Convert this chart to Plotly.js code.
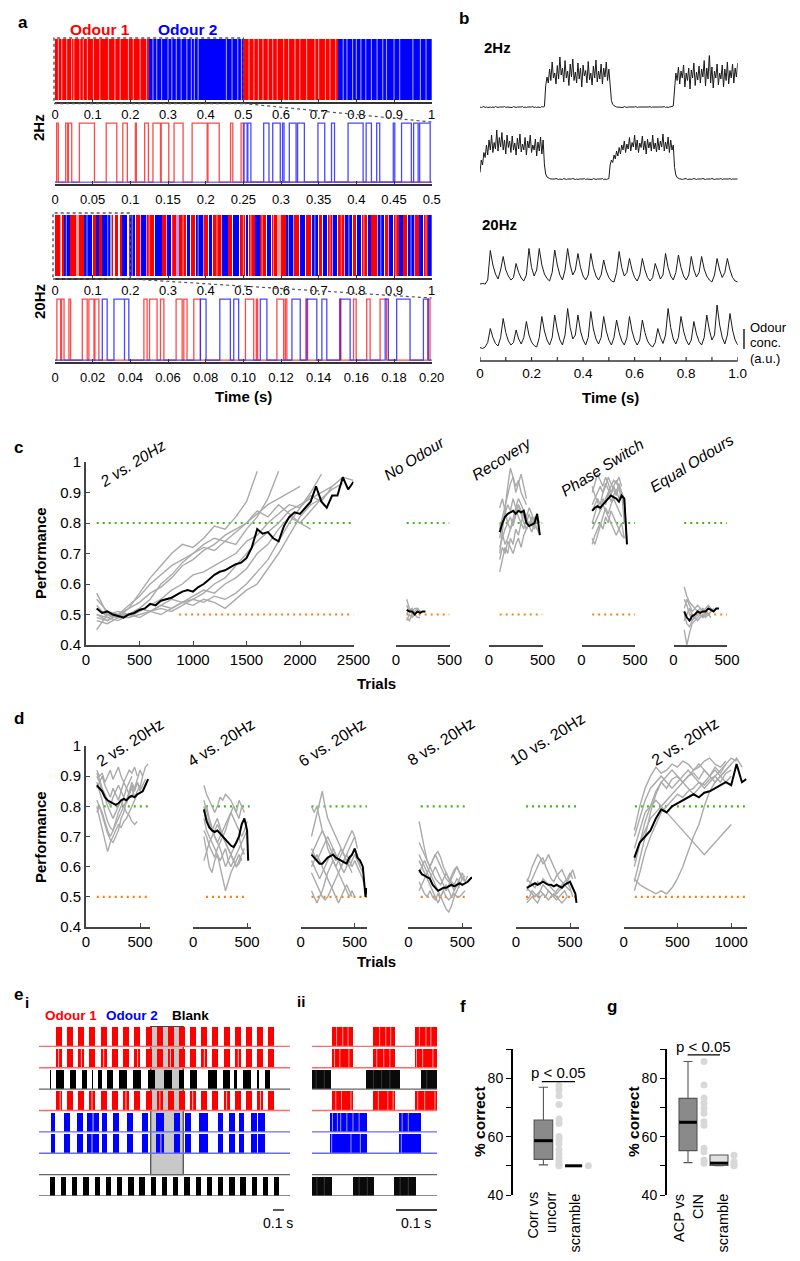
<!DOCTYPE html>
<html><head><meta charset="utf-8">
<script src="https://cdn.plot.ly/plotly-3.0.1.min.js"></script>
<style>html,body{margin:0;padding:0;background:#fff;}#chart{width:800px;height:1261px;}</style>
</head><body><div id="chart"></div>
<script>
// ================= DATA =================
// ---- panel a : odour pulse rasters
const aTopTicks = [0,0.1,0.2,0.3,0.4,0.5,0.6,0.7,0.8,0.9,1];
const aTopTickText = ['0','0.1','0.2','0.3','0.4','0.5','0.6','0.7','0.8','0.9','1'];
const a2HzZoomTicks = [0,0.05,0.1,0.15,0.2,0.25,0.3,0.35,0.4,0.45,0.5];
const a2HzZoomTickText = ['0','0.05','0.1','0.15','0.2','0.25','0.3','0.35','0.4','0.45','0.5'];
const a20HzZoomTicks = [0,0.02,0.04,0.06,0.08,0.1,0.12,0.14,0.16,0.18,0.2];
const a20HzZoomTickText = ['0','0.02','0.04','0.06','0.08','0.10','0.12','0.14','0.16','0.18','0.20'];

const a2HzOdour1Blocks = [[0,0.25],[0.5,0.75]];
const a2HzOdour2Blocks = [[0.25,0.5],[0.75,1]];
const a2HzOdour1Light = [0.009,0.018,0.031,0.044,0.05,0.066,0.075,0.086,0.102,0.119,0.142,0.159,0.173,0.195,0.208,0.226,0.243,
  0.515,0.528,0.54,0.552,0.566,0.578,0.59,0.607,0.62,0.637,0.65,0.668,0.69,0.7,0.718,0.73,0.745];
const a2HzOdour2Light = [0.26,0.27,0.283,0.3,0.31,0.322,0.335,0.35,0.362,0.37,0.38,0.455,0.47,0.485,0.495,
  0.765,0.775,0.79,0.8,0.812,0.825,0.84,0.855,0.87,0.88,0.9,0.915,0.95,0.97,0.985];
const a2HzZoomOdour1 = [[0.0022,0.0044],[0.0142,0.0168],[0.0177,0.0222],[0.0324,0.0524],[0.068,0.082],[0.09,0.096],[0.1067,0.108],
  [0.119,0.124],[0.13,0.14],[0.141,0.151],[0.158,0.17],[0.182,0.202],[0.203,0.218],[0.233,0.236],[0.247,0.25]];
const a2HzZoomOdour2 = [[0.251,0.255],[0.256,0.26],[0.277,0.284],[0.289,0.299],[0.302,0.304],[0.311,0.32],[0.322,0.331],[0.349,0.358],
  [0.367,0.371],[0.389,0.409],[0.413,0.42],[0.427,0.431],[0.449,0.451],[0.46,0.473],[0.476,0.482],[0.484,0.498]];

const a20HzOdour1Segs = [[0,0.012],[0.018,0.024],[0.04,0.056],[0.064,0.078],[0.1,0.108],[0.118,0.124],[0.133,0.136],[0.15,0.153],[0.158,0.168],
  [0.172,0.178],[0.196,0.2],[0.215,0.225],[0.245,0.262],[0.285,0.295],[0.31,0.32],[0.33,0.348],[0.36,0.372],[0.395,0.405],[0.42,0.44],
  [0.46,0.47],[0.49,0.505],[0.515,0.53],[0.545,0.56],[0.575,0.59],[0.6,0.612],[0.635,0.648],[0.665,0.68],[0.7,0.71],[0.725,0.735],
  [0.75,0.768],[0.79,0.8],[0.815,0.828],[0.84,0.855],[0.875,0.885],[0.9,0.912],[0.925,0.935],[0.955,0.965],[0.98,0.99]];
const a20HzOdour2Segs = [[0.025,0.039],[0.078,0.098],[0.109,0.116],[0.126,0.145],[0.178,0.19],[0.2,0.213],[0.228,0.242],[0.265,0.283],
  [0.298,0.308],[0.35,0.358],[0.375,0.392],[0.408,0.418],[0.443,0.458],[0.472,0.488],[0.507,0.513],[0.532,0.543],[0.562,0.573],
  [0.613,0.632],[0.65,0.663],[0.682,0.698],[0.712,0.722],[0.738,0.748],[0.77,0.788],[0.802,0.813],[0.83,0.838],[0.858,0.873],
  [0.887,0.898],[0.914,0.923],[0.938,0.952],[0.967,0.978],[0.99,1.0]];
const a20HzOdour1Pale = [[0.012,0.017],[0.057,0.063],[0.225,0.228],[0.295,0.298],[0.44,0.443],[0.59,0.6],[0.768,0.77],[0.885,0.887]];
const a20HzOdour2Pale = [[0.145,0.15],[0.242,0.245],[0.32,0.33],[0.392,0.395],[0.632,0.635],[0.735,0.738],[0.855,0.858],[0.952,0.955]];
const a20HzGapLines = [0.03,0.085,0.14,0.205,0.25,0.31,0.34,0.38,0.43,0.5,0.52,0.55,0.58,0.62,0.69,0.73,0.76,0.78,0.82,0.865,0.905,0.945,0.985];
const a20HzZoomOdour1 = [[0.001,0.003],[0.0035,0.0048],[0.0074,0.0083],[0.0145,0.0171],[0.018,0.0207],[0.0212,0.0233],[0.0472,0.0489],
  [0.0502,0.0542],[0.056,0.0578],[0.0643,0.0675],[0.0684,0.0701],[0.0737,0.0772],[0.1011,0.1055],[0.1069,0.1076],[0.1178,0.1214],
  [0.1223,0.1231],[0.1332,0.1341],[0.1511,0.1518],[0.1585,0.1599],[0.1655,0.1673],[0.1726,0.1761],[0.1979,0.1991]];
const a20HzZoomOdour2 = [[0.0251,0.0277],[0.0313,0.0369],[0.0369,0.0392],[0.0772,0.0802],[0.0875,0.0931],[0.0949,0.0975],[0.109,0.1125],
  [0.1258,0.1302],[0.1337,0.139],[0.1417,0.1443],[0.1514,0.1567],[0.1753,0.177],[0.1814,0.1885],[0.1956,0.1982]];

// ---- panel b : measured odour concentration (a.u.)
// 2 Hz traces sampled every 5 ms, 20 Hz traces every 10 ms, from 0 to 1 s
const b2HzSampleStep = 0.005;
const b20HzSampleStep = 0.01;
const bTrace2HzA = [
  0.02,0.01,0.02,0.03,0.01,0.02,0.01,0.02,0.02,0.01, 0.02,0.01,0.03,0.02,0.01,0.02,0.02,0.01,0.02,0.03,
  0.01,0.02,0.02,0.01,0.02,0.01,0.03,0.02,0.01,0.02, 0.02,0.01,0.02,0.03,0.01,0.02,0.01,0.02,0.02,0.01,
  0.02,0.03,0.01,0.02,0.01,0.02,0.02,0.01,0.03,0.02, 0.03,0.45,0.62,0.5,0.78,0.55,0.92,0.6,0.7,0.48,
  0.85,0.58,1.02,0.66,0.8,0.52,0.95,0.6,0.74,0.45, 0.88,0.62,0.98,0.55,0.72,0.5,0.9,0.58,0.8,0.42,
  0.86,0.64,0.75,0.5,0.93,0.56,0.7,0.46,0.84,0.6, 0.96,0.52,0.74,0.58,0.88,0.48,0.8,0.62,0.92,0.55,
  0.78,0.4,0.15,0.07,0.04,0.03,0.02,0.02,0.01,0.02, 0.02,0.01,0.03,0.02,0.01,0.02,0.02,0.01,0.02,0.01,
  0.02,0.03,0.01,0.02,0.02,0.01,0.02,0.01,0.02,0.02, 0.01,0.02,0.03,0.01,0.02,0.02,0.01,0.02,0.01,0.02,
  0.02,0.01,0.02,0.03,0.01,0.02,0.01,0.02,0.02,0.03, 0.04,0.5,0.7,0.55,0.82,0.48,0.74,0.6,0.86,0.42,
  0.7,0.55,0.8,0.38,0.76,0.6,0.9,0.45,0.72,0.56, 0.84,0.5,0.78,0.62,0.95,0.44,0.8,0.58,1.1,0.5,
  0.82,0.4,0.74,0.6,0.88,0.46,0.7,0.58,0.86,0.42, 0.78,0.55,0.92,0.48,0.75,0.6,0.88,0.5,0.8,0.62,
  0.9];
const bTrace2HzB = [
  0.15,0.4,0.3,0.55,0.45,0.7,0.5,0.8,0.6,0.9, 0.55,0.75,0.62,1.0,0.58,0.85,0.66,0.95,0.6,0.8,
  0.52,0.9,0.65,0.78,0.55,0.88,0.6,0.74,0.5,0.84, 0.62,0.92,0.56,0.72,0.6,0.85,0.5,0.78,0.64,0.9,
  0.55,0.7,0.6,0.82,0.48,0.76,0.58,0.86,0.52,0.8, 0.3,0.12,0.06,0.04,0.03,0.02,0.02,0.01,0.02,0.03,
  0.02,0.01,0.02,0.02,0.01,0.03,0.02,0.01,0.02,0.02, 0.01,0.02,0.03,0.02,0.01,0.02,0.01,0.02,0.02,0.01,
  0.02,0.03,0.01,0.02,0.02,0.01,0.02,0.01,0.03,0.02, 0.01,0.02,0.02,0.01,0.02,0.03,0.01,0.02,0.01,0.02,
  0.03,0.3,0.4,0.35,0.5,0.42,0.58,0.48,0.65,0.52, 0.7,0.6,0.78,0.55,0.72,0.62,0.85,0.58,0.75,0.66,
  0.9,0.6,0.8,0.55,0.74,0.65,0.88,0.6,0.78,0.52, 0.82,0.64,0.76,0.58,0.9,0.62,0.74,0.56,0.84,0.6,
  0.78,0.66,0.92,0.58,0.76,0.62,0.86,0.55,0.8,0.6, 0.7,0.25,0.1,0.05,0.03,0.02,0.02,0.01,0.02,0.02,
  0.03,0.01,0.02,0.02,0.01,0.02,0.03,0.02,0.01,0.02, 0.02,0.01,0.02,0.03,0.02,0.01,0.02,0.02,0.01,0.02,
  0.03,0.02,0.01,0.02,0.02,0.01,0.02,0.03,0.01,0.02, 0.02,0.01,0.02,0.02,0.03,0.01,0.02,0.02,0.01,0.02,
  0.02];
const bTrace20HzA = [0.02,0.03,0.02,0.1,0.69,0.4,0.22,0.12,0.3,0.57,0.3,0.18,0.1,0.15,0.43,0.25,0.14,0.08,0.2,0.73,
  0.35,0.18,0.3,0.73,0.4,0.22,0.13,0.08,0.25,0.7,0.4,0.2,0.1,0.3,0.73,0.4,0.2,0.3,0.63,0.35,
  0.18,0.1,0.2,0.63,0.35,0.18,0.1,0.2,0.5,0.28,0.15,0.08,0.06,0.25,0.67,0.35,0.18,0.25,0.53,0.3,
  0.15,0.08,0.2,0.53,0.3,0.15,0.08,0.15,0.43,0.25,0.12,0.2,0.63,0.35,0.18,0.1,0.25,0.6,0.35,0.18,
  0.1,0.2,0.57,0.3,0.16,0.25,0.57,0.32,0.18,0.1,0.06,0.2,0.53,0.3,0.15,0.25,0.53,0.3,0.15,0.08,0.06];
const bTrace20HzB = [0.05,0.03,0.06,0.15,0.43,0.25,0.13,0.08,0.25,0.63,0.35,0.18,0.1,0.15,0.4,0.22,0.12,0.25,0.57,0.3,
  0.16,0.09,0.06,0.25,0.67,0.38,0.2,0.1,0.25,0.7,0.4,0.2,0.1,0.3,0.83,0.45,0.22,0.3,0.7,0.38,
  0.2,0.1,0.25,0.77,0.42,0.22,0.12,0.25,0.67,0.38,0.2,0.1,0.25,0.6,0.35,0.18,0.1,0.25,0.67,0.38,
  0.2,0.1,0.2,0.6,0.35,0.18,0.1,0.06,0.15,0.43,0.25,0.13,0.3,0.83,0.45,0.22,0.12,0.25,0.67,0.38,
  0.2,0.1,0.2,0.57,0.32,0.17,0.1,0.25,0.7,0.4,0.2,0.3,0.9,0.5,0.25,0.12,0.3,0.73,0.4,0.2,0.1];
const bTicks = [0,0.1,0.2,0.3,0.4,0.5,0.6,0.7,0.8,0.9,1];
const bTickText = ['0','','0.2','','0.4','','0.6','','0.8','','1.0'];

// ---- panels c, d : performance vs trials
const perfTicks = [0.4,0.5,0.6,0.7,0.8,0.9,1];
const perfTickText = ['0.4','0.5','0.6','0.7','0.8','0.9','1'];
const goalLevel = 0.8, chanceLevel = 0.5;
const cTitles = ['2 vs. 20Hz','No Odour','Recovery','Phase Switch','Equal Odours'];
const cTrials1 = [100,200,300,400,500,600,700,800,900,1000,1100,1200,1300,1400,1500,1600,1700,1800,1900,2000,2100,2200,2300,2400,2500];
const cRuns1 = [
  [0.57,0.50,0.49,0.52,0.57,0.62,0.66,0.70,0.73,0.72,0.75,0.79,0.78,0.82,0.87,0.97],
  [0.53,0.49,0.48,0.50,0.52,0.55,0.60,0.63,0.67,0.70,0.72,0.71,0.74,0.73,0.78,0.82,0.88,0.97],
  [0.50,0.48,0.50,0.49,0.51,0.53,0.55,0.58,0.60,0.63,0.64,0.66,0.68,0.70,0.74,0.76,0.80,0.83,0.86,0.85,0.90,0.96],
  [0.52,0.50,0.49,0.49,0.50,0.51,0.50,0.52,0.54,0.55,0.57,0.60,0.62,0.66,0.70,0.74,0.77,0.80,0.84,0.86,0.88,0.90,0.92,0.95,0.94],
  [0.49,0.48,0.50,0.50,0.49,0.51,0.52,0.51,0.53,0.55,0.54,0.56,0.55,0.57,0.60,0.64,0.68,0.74,0.80,0.85,0.89,0.87,0.92],
  [0.45,0.50,0.51,0.50,0.52,0.51,0.53,0.55,0.54,0.56,0.58,0.57,0.60,0.62,0.65,0.70,0.73,0.78,0.82,0.80,0.84,0.88],
  [0.55,0.51,0.50,0.53,0.56,0.60,0.63,0.66,0.68,0.70,0.73,0.75,0.74,0.77,0.80,0.84,0.82,0.86,0.83,0.80,0.78],
  [0.50,0.49,0.50,0.52,0.54,0.57,0.59,0.62,0.66,0.68,0.71,0.73,0.76,0.78,0.80,0.83,0.86,0.88,0.90,0.92],
  [0.48,0.47,0.49,0.50,0.52,0.51,0.53,0.52,0.54,0.53,0.55,0.54,0.52,0.55,0.58,0.60,0.65,0.70,0.76,0.82,0.86,0.88,0.91,0.93]];
const cMeanTrials1 = [100,150,200,250,300,350,400,450,500,550,600,650,700,750,800,850,900,950,1000,1050,1100,1150,1200,1250,1300,
  1350,1400,1450,1500,1550,1600,1650,1700,1750,1800,1850,1900,1950,2000,2050,2100,2150,2200,2250,2300,2350,2400,2450,2500];
const cMean1 = [0.52,0.505,0.51,0.50,0.495,0.49,0.50,0.505,0.515,0.52,0.535,0.53,0.545,0.55,0.555,0.565,0.575,0.58,0.575,0.59,
  0.60,0.615,0.63,0.64,0.645,0.655,0.665,0.67,0.685,0.72,0.78,0.765,0.77,0.75,0.74,0.79,0.82,0.835,0.83,0.85,
  0.87,0.92,0.87,0.85,0.89,0.89,0.95,0.91,0.935];
const cTrials2 = [100,125,150,175,200,225,250,275];
const cRuns2 = [[0.55,0.52,0.50,0.51,0.52,0.51],[0.48,0.50,0.49,0.50,0.49,0.49],[0.53,0.51,0.52,0.50,0.51],[0.50,0.52,0.51,0.52,0.52,0.51,0.51],[0.49,0.48,0.50,0.50]];
const cMean2 = [0.515,0.51,0.51,0.50,0.51,0.505,0.51,0.51];
const cTrials3 = [100,125,150,175,200,225,250,275,300,325,350,375,400,425,450,475];
const cRuns3 = [
  [0.70,0.78,0.85,0.92,0.98,0.95,0.90,0.93,0.96,0.92,0.88],
  [0.64,0.68,0.72,0.70,0.75,0.73,0.78,0.76,0.80,0.78,0.82,0.79,0.77,0.80,0.78],
  [0.75,0.80,0.83,0.86,0.84,0.88,0.85,0.82,0.80,0.83,0.81,0.79,0.82,0.80,0.78,0.76],
  [0.80,0.76,0.73,0.75,0.78,0.80,0.84,0.86,0.83,0.80,0.78,0.80,0.81],
  [0.68,0.72,0.70,0.74,0.72,0.70,0.73,0.75,0.72,0.76,0.78,0.80,0.79,0.82,0.80],
  [0.78,0.82,0.86,0.90,0.93,0.95,0.92,0.94,0.90,0.88,0.86],
  [0.72,0.75,0.78,0.80,0.82,0.79,0.83,0.86,0.84,0.82,0.80,0.83,0.80,0.78,0.82,0.80],
  [0.85,0.88,0.84,0.80,0.78,0.82,0.85,0.88,0.86,0.84,0.82,0.85,0.83,0.80]];
const cMean3 = [0.77,0.80,0.82,0.83,0.835,0.84,0.83,0.84,0.835,0.84,0.80,0.79,0.795,0.80,0.83,0.76];
const cTrials4 = [100,125,150,175,200,225,250,275,300,325,350,375,400,425];
const cRuns4 = [
  [0.90,0.93,0.96,0.94,0.92,0.95,0.93,0.90,0.92,0.94,0.91,0.88],
  [0.86,0.88,0.90,0.92,0.90,0.93,0.91,0.89,0.92,0.90,0.93,0.90,0.86],
  [0.80,0.83,0.86,0.84,0.88,0.86,0.90,0.87,0.89,0.91,0.88,0.90,0.80],
  [0.73,0.76,0.78,0.80,0.78,0.82,0.80,0.84,0.82,0.80,0.78,0.76,0.75],
  [0.75,0.73,0.76,0.79,0.82,0.85,0.83,0.86,0.88,0.86,0.84,0.82],
  [0.84,0.86,0.88,0.86,0.90,0.92,0.95,0.93,0.91,0.89,0.92,0.90,0.88,0.73],
  [0.78,0.80,0.82,0.84,0.86,0.84,0.82,0.80,0.78,0.76,0.78,0.80,0.75],
  [0.92,0.89,0.87,0.84,0.86,0.88,0.90,0.92,0.94,0.93,0.95,0.92]];
const cMean4 = [0.84,0.85,0.855,0.85,0.86,0.87,0.88,0.89,0.885,0.88,0.87,0.89,0.88,0.73];
const cTrials5 = [100,125,150,175,200,225,250,275,300,325,350,375,400,425];
const cRuns5 = [
  [0.59,0.56,0.54,0.53,0.52,0.51,0.52,0.51,0.50,0.51],
  [0.45,0.40,0.44,0.47,0.48,0.49,0.50,0.49,0.50,0.50,0.51],
  [0.55,0.53,0.50,0.48,0.49,0.50,0.51,0.52,0.51,0.50,0.51,0.52],
  [0.50,0.47,0.46,0.48,0.50,0.51,0.50,0.49,0.50],
  [0.52,0.55,0.53,0.51,0.52,0.53,0.52,0.51,0.52,0.53,0.52,0.51,0.52],
  [0.48,0.50,0.52,0.50,0.49,0.48,0.49,0.50,0.49,0.50,0.49]];
const cMean5 = [0.51,0.49,0.48,0.495,0.50,0.51,0.505,0.51,0.51,0.52,0.515,0.51,0.52,0.52];
const cGoalSpans = [[100,2500],[100,500],[100,500],[100,500],[100,500]];
const cChanceSpans = [[870,2500],[100,500],[100,500],[100,500],[100,500]];

const dTitles = ['2 vs. 20Hz','4 vs. 20Hz','6 vs. 20Hz','8 vs. 20Hz','10 vs. 20Hz','2 vs. 20Hz'];
const dTrials1 = [100,125,150,175,200,225,250,275,300,325,350,375,400,425,450,475,500,525,550,575];
const dRuns1 = [
  [0.92,0.90,0.91,0.88,0.90,0.92,0.89,0.91,0.93,0.90,0.88,0.90,0.92,0.91,0.93,0.90],
  [0.88,0.85,0.82,0.78,0.75,0.73,0.72,0.74,0.76,0.78,0.80,0.82,0.85,0.88,0.86,0.89,0.92,0.90,0.93,0.94],
  [0.80,0.76,0.72,0.68,0.65,0.68,0.70,0.72,0.74,0.73,0.75,0.76,0.78,0.80,0.82,0.84],
  [0.90,0.88,0.85,0.83,0.80,0.78,0.76,0.78,0.80,0.82,0.80,0.78,0.77,0.75,0.74,0.75],
  [0.86,0.88,0.90,0.87,0.85,0.83,0.86,0.84,0.82,0.85,0.88,0.86,0.84,0.87,0.85,0.88,0.86,0.90],
  [0.82,0.80,0.78,0.75,0.72,0.70,0.72,0.75,0.78,0.80,0.83,0.81,0.84,0.86,0.83,0.85,0.87],
  [0.78,0.80,0.77,0.74,0.71,0.69,0.68,0.70,0.72,0.76,0.78,0.82,0.84,0.83,0.86,0.88,0.85,0.87,0.89],
  [0.91,0.89,0.86,0.84,0.82,0.80,0.83,0.85,0.87,0.85,0.83,0.86,0.88,0.90]];
const dMean1 = [0.87,0.86,0.85,0.83,0.82,0.815,0.81,0.805,0.81,0.82,0.825,0.82,0.83,0.835,0.83,0.84,0.845,0.85,0.87,0.89];
const dTrials2 = [100,125,150,175,200,225,250,275,300,325,350,375,400,425,450,475,500,510];
const dRuns2 = [
  [0.87,0.84,0.82,0.80,0.78,0.80,0.83,0.82,0.84,0.83,0.82,0.80,0.78,0.76,0.80,0.78],
  [0.82,0.78,0.75,0.72,0.70,0.68,0.70,0.72,0.74,0.76,0.78,0.80,0.78,0.82,0.80],
  [0.70,0.65,0.60,0.58,0.62,0.64,0.60,0.56,0.52,0.55,0.58,0.60,0.62,0.64,0.62],
  [0.76,0.72,0.70,0.68,0.66,0.64,0.62,0.64,0.66,0.62,0.60,0.62,0.64,0.66,0.68,0.70,0.72],
  [0.80,0.76,0.74,0.72,0.74,0.76,0.73,0.70,0.68,0.66,0.64,0.62,0.60,0.62,0.64,0.66],
  [0.72,0.70,0.67,0.65,0.63,0.66,0.68,0.70,0.72,0.75,0.78,0.76,0.74,0.72,0.70,0.72,0.75],
  [0.62,0.65,0.68,0.70,0.72,0.74,0.72,0.70,0.68,0.66,0.64,0.66,0.68,0.70,0.66,0.64],
  [0.78,0.80,0.76,0.73,0.70,0.68,0.66,0.63,0.60,0.62,0.64,0.62,0.60,0.61,0.63]];
const dMean2 = [0.79,0.75,0.73,0.72,0.715,0.72,0.71,0.70,0.69,0.68,0.67,0.665,0.68,0.70,0.74,0.76,0.72,0.62];
const dTrials3 = [100,125,150,175,200,225,250,275,300,325,350,375,400,425,450,475,500,525,550,575,600,610];
const dRuns3 = [
  [0.80,0.78,0.80,0.76,0.72,0.70,0.66,0.64,0.62,0.60,0.62,0.64,0.66,0.68,0.70,0.72,0.70],
  [0.70,0.74,0.78,0.82,0.85,0.80,0.76,0.74,0.72,0.70,0.68,0.66,0.64,0.62,0.60,0.58],
  [0.62,0.60,0.58,0.56,0.58,0.60,0.62,0.64,0.66,0.64,0.62,0.60,0.58,0.60,0.62,0.64,0.66,0.64,0.60,0.58],
  [0.52,0.50,0.48,0.50,0.52,0.55,0.58,0.60,0.62,0.60,0.58,0.56,0.54,0.52,0.50,0.52,0.50],
  [0.66,0.64,0.62,0.64,0.66,0.68,0.70,0.68,0.66,0.64,0.62,0.60,0.62,0.64,0.62,0.60,0.62,0.60,0.58,0.56,0.52],
  [0.58,0.56,0.54,0.52,0.50,0.49,0.50,0.52,0.54,0.56,0.58,0.60,0.62,0.64,0.66,0.68,0.70,0.66],
  [0.60,0.62,0.64,0.62,0.60,0.58,0.56,0.54,0.52,0.50,0.48,0.50,0.52,0.54,0.52,0.50],
  [0.64,0.66,0.68,0.70,0.72,0.70,0.68,0.66,0.64,0.62,0.64,0.66,0.64,0.62,0.60,0.62,0.64,0.62,0.60]];
const dMean3 = [0.64,0.63,0.62,0.61,0.61,0.62,0.63,0.635,0.64,0.63,0.625,0.62,0.615,0.61,0.63,0.64,0.66,0.63,0.62,0.60,0.50,0.53];
const dTrials4 = [100,125,150,175,200,225,250,275,300,325,350,375,400,425,450,475,500,525,550,575,590];
const dRuns4 = [
  [0.75,0.70,0.66,0.62,0.60,0.58,0.56,0.55,0.54,0.56,0.58,0.56,0.55,0.54,0.56,0.55],
  [0.68,0.66,0.64,0.62,0.60,0.62,0.64,0.62,0.60,0.58,0.56,0.55,0.57,0.59,0.60,0.58,0.56,0.57],
  [0.58,0.60,0.62,0.60,0.58,0.56,0.54,0.52,0.50,0.48,0.46,0.45,0.47,0.50,0.52,0.54,0.56],
  [0.52,0.54,0.56,0.58,0.60,0.62,0.64,0.65,0.63,0.60,0.58,0.56,0.54,0.52,0.54,0.56,0.58,0.55],
  [0.62,0.60,0.58,0.56,0.54,0.52,0.50,0.48,0.50,0.52,0.54,0.52,0.50,0.52,0.54,0.53],
  [0.55,0.53,0.51,0.50,0.52,0.50,0.49,0.51,0.50,0.52,0.50,0.49,0.50,0.51,0.50,0.50,0.51,0.52],
  [0.64,0.62,0.60,0.58,0.56,0.58,0.60,0.58,0.56,0.54,0.52,0.54,0.56,0.58,0.60,0.58,0.56,0.55,0.57]];
const dMean4 = [0.59,0.575,0.57,0.565,0.56,0.54,0.53,0.52,0.525,0.53,0.53,0.535,0.54,0.535,0.54,0.545,0.54,0.545,0.55,0.56,0.565];
const dTrials5 = [100,125,150,175,200,225,250,275,300,325,350,375,400,425,450,475,500,525,550,560];
const dRuns5 = [
  [0.55,0.57,0.60,0.62,0.64,0.63,0.61,0.62,0.64,0.62,0.60,0.58,0.56,0.55,0.54,0.53,0.52],
  [0.52,0.54,0.56,0.58,0.60,0.62,0.63,0.60,0.58,0.56,0.55,0.57,0.58,0.59,0.57,0.55,0.53,0.50],
  [0.49,0.50,0.52,0.51,0.50,0.52,0.54,0.53,0.52,0.51,0.50,0.52,0.53,0.54,0.55,0.56,0.58,0.56],
  [0.48,0.49,0.50,0.49,0.48,0.50,0.51,0.50,0.52,0.51,0.50,0.49,0.50,0.51,0.52,0.50],
  [0.56,0.55,0.54,0.53,0.55,0.54,0.56,0.55,0.54,0.53,0.52,0.51,0.52,0.53,0.54,0.55,0.57,0.59,0.56],
  [0.53,0.52,0.51,0.50,0.51,0.52,0.51,0.50,0.49,0.50,0.51,0.50,0.49,0.48,0.49,0.50]];
const dMean5 = [0.53,0.535,0.54,0.545,0.54,0.545,0.55,0.545,0.54,0.54,0.535,0.54,0.535,0.53,0.54,0.545,0.55,0.53,0.51,0.48];
const dTrials6 = [100,150,200,250,300,350,400,450,500,550,600,650,700,750,800,850,900,950,1000,1050,1100,1140];
const dRuns6 = [
  [0.72,0.80,0.86,0.90,0.93,0.91,0.92,0.94,0.93,0.95,0.94,0.92,0.93,0.95,0.96,0.94,0.93,0.95],
  [0.60,0.68,0.75,0.80,0.85,0.88,0.86,0.89,0.90,0.88,0.90,0.91,0.89,0.92,0.90,0.93,0.91,0.94,0.96,0.95],
  [0.56,0.54,0.53,0.52,0.51,0.52,0.51,0.53,0.56,0.60,0.65,0.70,0.74,0.80,0.85,0.88,0.90,0.92,0.94],
  [0.52,0.58,0.65,0.70,0.74,0.78,0.80,0.82,0.84,0.83,0.85,0.86,0.88,0.87,0.89,0.90,0.88,0.91,0.92],
  [0.62,0.68,0.72,0.76,0.78,0.80,0.78,0.76,0.74,0.72,0.70,0.68,0.66,0.64,0.66,0.68,0.70,0.72,0.74],
  [0.70,0.76,0.82,0.86,0.88,0.90,0.88,0.86,0.88,0.90,0.92,0.90,0.88,0.86,0.88,0.90,0.92,0.94],
  [0.55,0.62,0.70,0.78,0.84,0.88,0.90,0.92,0.90,0.88,0.90,0.92,0.94,0.92,0.90,0.88,0.90,0.92,0.94,0.96,0.93],
  [0.66,0.72,0.78,0.80,0.82,0.80,0.82,0.84,0.86,0.88,0.86,0.84,0.86,0.88,0.90,0.92,0.90,0.88,0.90]];
const dMean6 = [0.63,0.68,0.70,0.72,0.76,0.79,0.78,0.80,0.81,0.82,0.83,0.84,0.83,0.845,0.85,0.86,0.87,0.88,0.87,0.94,0.88,0.89];
const dGoalSpans = [[109,585],[119,524],[100,614],[115,558],[93,558],[105,1140]];
const dChanceSpans = [[100,585],[119,500],[100,614],[115,558],[93,558],[105,1140]];

// ---- panel e : pulse trains (s)
const eiOdour1On  = [0.157,0.262,0.371,0.475,0.582,0.689,0.792,0.899,1.006,1.110,1.214,1.321,1.425,1.531,1.635,1.742,1.846,1.953,2.060,2.164];
const eiOdour1Off = [0.214,0.319,0.428,0.532,0.639,0.746,0.849,0.956,1.063,1.167,1.271,1.378,1.482,1.588,1.692,1.799,1.903,2.010,2.117,2.221];
const eiBlankOn  = [0.104,0.160,0.296,0.402,0.503,0.553,0.645,0.755,0.890,1.031,1.182,1.324,1.424,1.597,1.733,1.843,1.921,2.053,2.132];
const eiBlankOff = [0.113,0.239,0.349,0.450,0.509,0.591,0.701,0.827,0.959,1.094,1.251,1.368,1.487,1.682,1.802,1.871,1.997,2.079,2.179];
const eiOdour2On  = [0.110,0.239,0.355,0.456,0.591,0.701,0.833,0.972,1.101,1.274,1.380,1.509,1.692,1.796,1.884,1.997,2.069];
const eiOdour2Off = [0.151,0.292,0.412,0.569,0.638,0.752,0.884,1.025,1.182,1.330,1.431,1.591,1.739,1.849,1.937,2.053,2.132];
const eiPulseOn  = [0.104,0.208,0.311,0.418,0.525,0.632,0.736,0.843,0.947,1.054,1.160,1.264,1.371,1.478,1.582,1.689,1.796,1.899,2.006,2.110,2.217];
const eiPulseOff = [0.154,0.258,0.361,0.468,0.575,0.682,0.786,0.893,0.997,1.104,1.210,1.314,1.421,1.528,1.632,1.739,1.846,1.949,2.056,2.160,2.267];
const eiRow2Gaps = [0.185,0.40,0.61,0.93,1.24,1.56,1.88];
const eiRow4Gaps = [0.20,0.50,0.82,1.14,1.45,1.77,2.09];
const eiRow5Gaps = [0.51];
const eiRow6Gaps = [0.50,1.15];
const eiGateWindow = [1.054,1.361];
const eiiOdour1On = [0.048,0.150,0.251], eiiOdour1Off = [0.101,0.202,0.304];
const eiiBlankOn = [0,0.131,0.265], eiiBlankOff = [0.046,0.215,0.304];
const eiiOdour2On = [0.044,0.213], eiiOdour2Off = [0.133,0.265];
const eiiPulseOn = [0,0.099,0.2], eiiPulseOff = [0.0496,0.151,0.253];
const eiiRow1Gaps = [0.060,0.075,0.088,0.165,0.180,0.192,0.262,0.278,0.290];
const eiiRow2Gaps = [0.055,0.068,0.090,0.158,0.175,0.190,0.255,0.270,0.295];
const eiiRow4Gaps = [0.058,0.072,0.095,0.162,0.185,0.198,0.258,0.275,0.300];
const eiiRow5Gaps = [0.050,0.062,0.070,0.085,0.100,0.115,0.220,0.235];
const eiiRow6Gaps = [0.048,0.095,0.118,0.218];
const eiiRow3Texture = [0.01,0.03,0.15,0.17,0.19,0.28];
const eiiRow8Texture = [0.012,0.03,0.115,0.135,0.215,0.235];

// ---- panels f, g : % correct  (stats = [lower whisker, q1, median, q3, upper whisker])
const fCategories = ['Corr vs<br>uncorr','scramble'];
const fCorrStats = [50.3,52.2,58.6,65.7,76.9];
const fCorrPoints = [77.5,76,74,71,66,64.5,60,59,57.5,55.5,54,52.5,51.5,50.5,50];
const fScrambleStats = [50,50,50,50,50];
const fScramblePoints = [50];
const gCategories = ['ACP vs<br>CIN','scramble'];
const gAcpStats = [51.1,55.2,64.9,73.1,85.7];
const gAcpPoints = [85.7,77.7,73.1,71.4,69.7,68,65.1,63.9,56,54.8,52,50.9];
const gScrambleStats = [50.0,50.1,50.9,53.7,53.7];
const gScramblePoints = [53.6,51.5,50.3,50];
const pctTicks = [40,50,60,70,80,90];
const pctTickText = ['40','','60','','80',''];
const sigLabel = 'p < 0.05';

// ================= LAYOUT HELPERS =================
const W = 800, H = 1261;
const px = v => v / W;
const py = v => 1 - v / H;
const FONT = 'Liberation Sans, Arial, Helvetica, sans-serif';
const NARROW = 'Liberation Sans Narrow, Arial Narrow, Liberation Sans, sans-serif';
const RED = '#ff0000', BLUE = '#0000ff', GRAY = '#aaaaaa';
const layout = {width:W, height:H, margin:{l:0,r:0,t:0,b:0}, showlegend:false, hovermode:false,
  paper_bgcolor:'#fff', plot_bgcolor:'rgba(0,0,0,0)', barmode:'overlay', bargap:0,
  font:{family:FONT, color:'#000', size:13}, annotations:[], shapes:[]};
const data = [];
let nAx = 0;
function axes(xPix, yPix, xo, yo) {
  nAx++;
  const n = nAx === 1 ? '' : String(nAx);
  layout['xaxis' + n] = Object.assign({domain:[px(xPix[0]), px(xPix[1])], anchor:'y' + n, fixedrange:true, showgrid:false, zeroline:false}, xo);
  layout['yaxis' + n] = Object.assign({domain:[py(yPix[1]), py(yPix[0])], anchor:'x' + n, fixedrange:true, showgrid:false, zeroline:false}, yo);
  return {x:'x' + n, y:'y' + n};
}
function ann(text, x, y, o) {
  layout.annotations.push(Object.assign({text, x:px(x), y:py(y), xref:'paper', yref:'paper', showarrow:false,
    xanchor:'center', yanchor:'middle', font:{family:FONT, size:13, color:'#000'}}, o));
}
function bold(s) { return '<b>' + s + '</b>'; }
function lineShape(x0, y0, x1, y1, color, width, dash) {
  layout.shapes.push({type:'line', xref:'paper', yref:'paper', x0:px(x0), y0:py(y0), x1:px(x1), y1:py(y1),
    line:{color, width, dash:dash || 'solid'}});
}
function segBars(segs, color, ax, base, h) {
  return {type:'bar', x:segs.map(s => (s[0] + s[1]) / 2), width:segs.map(s => s[1] - s[0]), y:segs.map(() => h),
    base:base, marker:{color, line:{width:0}}, xaxis:ax.x, yaxis:ax.y, hoverinfo:'skip'};
}
function onOffBars(on, off, color, ax, base, h) {
  return segBars(on.map((t, i) => [t, off[i]]), color, ax, base, h);
}
function vLines(times, color, ax, y0, y1, width) {
  const x = [], y = [];
  times.forEach(t => { x.push(t, t, null); y.push(y0, y1, null); });
  return {type:'scatter', mode:'lines', x, y, line:{color, width:width || 1}, xaxis:ax.x, yaxis:ax.y, hoverinfo:'skip'};
}
function outline(pulses, t0, t1, color, ax, width) {
  const x = [t0], y = [0];
  pulses.forEach(p => { x.push(p[0], p[0], p[1], p[1]); y.push(0, 1, 1, 0); });
  x.push(t1); y.push(0);
  return {type:'scatter', mode:'lines', x, y, line:{color, width:width || 1.3}, xaxis:ax.x, yaxis:ax.y, hoverinfo:'skip'};
}
const hidden = r => ({visible:false, range:r});
const aXAxis = (range, tv, tt, standoff) => ({range, tickvals:tv, ticktext:tt, showline:true, linecolor:'#333', linewidth:1.6,
  ticks:'inside', ticklen:3, tickcolor:'#333', tickwidth:1, tickfont:{family:FONT, size:13}, ticklabelstandoff:standoff || 0});

// ================= PANEL a =================
const aL = 55, aR = 431.7;
const aPix = v => aL + v * (aR - aL);
const a1 = axes([aL, aR], [39, 102], aXAxis([0, 1], aTopTicks, aTopTickText, 0), hidden([-0.03, 1]));
data.push(segBars(a2HzOdour1Blocks, RED, a1, 0, 1), segBars(a2HzOdour2Blocks, BLUE, a1, 0, 1));
data.push(vLines(a2HzOdour1Light, '#ff9c9c', a1, 0, 1, 1.1), vLines(a2HzOdour2Light, '#9c9cff', a1, 0, 1, 1.1));
const a2 = axes([aL, aR], [122, 184], aXAxis([0, 0.5], a2HzZoomTicks, a2HzZoomTickText, 3), hidden([-0.03, 1.02]));
data.push(outline(a2HzZoomOdour1, 0, 0.5, 'rgba(255,40,40,0.85)', a2), outline(a2HzZoomOdour2, 0.25, 0.5, 'rgba(40,40,255,0.85)', a2));
data.push({type:'scatter', mode:'lines', x:[0, 0.5], y:[0, 0], line:{color:'rgba(110,80,230,0.8)', width:1.6}, xaxis:a2.x, yaxis:a2.y, hoverinfo:'skip'});
const a3 = axes([aL, aR], [215, 278], aXAxis([0, 1], aTopTicks, aTopTickText, 0), hidden([-0.03, 1]));
data.push(segBars(a20HzOdour1Pale, '#ffa0a0', a3, 0, 1), segBars(a20HzOdour2Pale, '#a0a0ff', a3, 0, 1));
data.push(segBars(a20HzOdour1Segs, RED, a3, 0, 1), segBars(a20HzOdour2Segs, BLUE, a3, 0, 1));
data.push(vLines(a20HzGapLines, 'rgba(255,255,255,0.6)', a3, 0, 1, 1));
const a4 = axes([aL, aR], [298, 362], aXAxis([0, 0.2], a20HzZoomTicks, a20HzZoomTickText, 3), hidden([-0.03, 1.02]));
data.push(outline(a20HzZoomOdour1, 0, 0.2, 'rgba(255,40,40,0.85)', a4), outline(a20HzZoomOdour2, 0, 0.2, 'rgba(40,40,255,0.85)', a4));
// zoom boxes + connectors
layout.shapes.push({type:'rect', xref:'paper', yref:'paper', x0:px(aPix(0) - 1), x1:px(aPix(0.5)), y0:py(103.5), y1:py(38),
  line:{color:'#555', width:1.4, dash:'dot'}});
lineShape(aPix(0.5), 103.5, aR, 122, '#555', 1.2, 'dot');
layout.shapes.push({type:'rect', xref:'paper', yref:'paper', x0:px(aPix(0) - 2), x1:px(aPix(0.2)), y0:py(279), y1:py(213),
  line:{color:'#555', width:1.4, dash:'dot'}});
lineShape(aPix(0.2), 279, aR, 298, '#555', 1.2, 'dot');
ann(bold('a'), 23, 22, {font:{family:FONT, size:17}});
ann(bold('Odour 1'), 100, 29, {font:{family:FONT, size:15.5, color:RED}});
ann(bold('Odour 2'), 187, 29, {font:{family:FONT, size:15.5, color:BLUE}});
ann(bold('2Hz'), 39, 128, {textangle:-90, font:{family:FONT, size:15}});
ann(bold('20Hz'), 39, 302, {textangle:-90, font:{family:FONT, size:15}});
ann(bold('Time (s)'), 243, 396, {font:{family:FONT, size:15}});

// ================= PANEL b =================
const b2HzTime = bTrace2HzA.map((_, i) => i * b2HzSampleStep);
const b20HzTime = bTrace20HzA.map((_, i) => i * b20HzSampleStep);
const bTraces = [[bTrace2HzA, b2HzTime, 108], [bTrace2HzB, b2HzTime, 180], [bTrace20HzA, b20HzTime, 285], [bTrace20HzB, b20HzTime, 350]];
bTraces.forEach((tr, k) => {
  const base = tr[2];
  const last = k === bTraces.length - 1;
  const xo = last ? {range:[0, 1], tickvals:bTicks, ticktext:bTickText, showline:false, ticks:'', tickfont:{family:FONT, size:13.5},
      ticklabelstandoff:8} : hidden([0, 1]);
  const ax = axes([480, 737.7], [base - 52.5, base + 5], xo, hidden([-0.1, 1.05]));
  data.push({type:'scatter', mode:'lines', x:tr[1], y:tr[0], line:{color:'#1a1a1a', width:1}, xaxis:ax.x, yaxis:ax.y, hoverinfo:'skip'});
  if (last) {
    layout.shapes.push({type:'line', xref:ax.x, yref:'paper', x0:0, x1:1, y0:py(361), y1:py(361), line:{color:'#333', width:1.6}});
    bTicks.forEach(t => layout.shapes.push({type:'line', xref:ax.x, yref:'paper', x0:t, x1:t, y0:py(361), y1:py(357), line:{color:'#333', width:1.2}}));
  }
});
lineShape(744, 329, 744, 349, '#000', 1.3);
ann('Odour', 748, 328, {xanchor:'left', font:{family:FONT, size:13}});
ann('conc.', 748, 343, {xanchor:'left', font:{family:FONT, size:13}});
ann('(a.u.)', 748, 358, {xanchor:'left', font:{family:FONT, size:13}});
ann(bold('b'), 464, 19, {font:{family:FONT, size:17}});
ann(bold('2Hz'), 497, 48, {font:{family:FONT, size:15}});
ann(bold('20Hz'), 499, 224, {font:{family:FONT, size:15}});
ann(bold('Time (s)'), 610, 397, {font:{family:FONT, size:15}});

// ================= PANELS c, d =================
const perfAxisStyle = {range:[0.4, 1], tickvals:perfTicks, ticktext:perfTickText, showline:true, linecolor:'#444', linewidth:2,
  ticks:'inside', ticklen:4, tickcolor:'#444', tickfont:{family:NARROW, size:15}};
function perfPanel(xStart, scale, range, ticks, yPix, showY, trials, runs, meanTrials, mean, goal, chance) {
  const xo = {range:[0, range], tickvals:ticks, showline:true, linecolor:'#444', linewidth:2, ticks:'inside', ticklen:4,
    tickcolor:'#444', tickfont:{family:NARROW, size:15}};
  const ax = axes([xStart, xStart + range * scale], yPix, xo, showY ? perfAxisStyle : hidden([0.4, 1]));
  data.push({type:'scatter', mode:'lines', x:goal, y:[goalLevel, goalLevel], line:{color:'#3fb618', width:2.2, dash:'2px,4px'}, xaxis:ax.x, yaxis:ax.y, hoverinfo:'skip'});
  data.push({type:'scatter', mode:'lines', x:chance, y:[chanceLevel, chanceLevel], line:{color:'#ff7f0e', width:2.2, dash:'2px,4px'}, xaxis:ax.x, yaxis:ax.y, hoverinfo:'skip'});
  runs.forEach(r => data.push({type:'scatter', mode:'lines', x:trials.slice(0, r.length), y:r, line:{color:GRAY, width:1.4}, xaxis:ax.x, yaxis:ax.y, hoverinfo:'skip'}));
  data.push({type:'scatter', mode:'lines', x:meanTrials, y:mean, line:{color:'#000', width:2}, xaxis:ax.x, yaxis:ax.y, hoverinfo:'skip'});
  return ax;
}
const cY = [462, 645];
const cScale = 0.107;
perfPanel(86, cScale, 2500, [0,500,1000,1500,2000,2500], cY, true, cTrials1, cRuns1, cMeanTrials1, cMean1, cGoalSpans[0], cChanceSpans[0]);
perfPanel(396, cScale, 500, [0,500], cY, false, cTrials2, cRuns2, cTrials2, cMean2, cGoalSpans[1], cChanceSpans[1]);
perfPanel(489, cScale, 500, [0,500], cY, false, cTrials3, cRuns3, cTrials3, cMean3, cGoalSpans[2], cChanceSpans[2]);
perfPanel(581.5, cScale, 500, [0,500], cY, false, cTrials4, cRuns4, cTrials4, cMean4, cGoalSpans[3], cChanceSpans[3]);
perfPanel(673.5, cScale, 500, [0,500], cY, false, cTrials5, cRuns5, cTrials5, cMean5, cGoalSpans[4], cChanceSpans[4]);
const cTitlePos = [[132,463],[414,458],[502,458],[602,467],[691,463]];
cTitles.forEach((t, i) => ann('<i>' + t + '</i>', cTitlePos[i][0], cTitlePos[i][1], {textangle:-32, font:{family:FONT, size:15.5}}));
ann(bold('c'), 18, 447, {font:{family:FONT, size:17}});
ann(bold('Performance'), 40, 553, {textangle:-90, font:{family:FONT, size:15}});
ann(bold('Trials'), 376, 683, {font:{family:FONT, size:15}});

const dY = [746, 927];
const dScale = 0.108;
const dStarts = [86, 193.1, 300.7, 408.3, 516, 623.6];
const dRanges = [595, 533, 615, 590, 582, 1145];
const dTickSets = [[0,500],[0,500],[0,500],[0,500],[0,500],[0,500,1000]];
const dSets = [[dTrials1,dRuns1,dMean1],[dTrials2,dRuns2,dMean2],[dTrials3,dRuns3,dMean3],[dTrials4,dRuns4,dMean4],[dTrials5,dRuns5,dMean5],[dTrials6,dRuns6,dMean6]];
dSets.forEach((s, i) => perfPanel(dStarts[i], i === 5 ? 0.1076 : dScale, dRanges[i], dTickSets[i], dY, i === 0, s[0], s[1], s[0], s[2], dGoalSpans[i], dChanceSpans[i]));
const dTitlePos = [[130,742],[221,742],[332,742],[441,741],[547,739],[685,741]];
dTitles.forEach((t, i) => ann(t, dTitlePos[i][0], dTitlePos[i][1], {textangle:-32, font:{family:FONT, size:16}}));
ann(bold('d'), 19, 718, {font:{family:FONT, size:17}});
ann(bold('Performance'), 40, 837, {textangle:-90, font:{family:FONT, size:15}});
ann(bold('Trials'), 376, 962, {font:{family:FONT, size:15}});

// ================= PANEL e =================
const eY = [1025, 1196];
const rowH = 0.9;
const WHITE = 'rgba(255,255,255,0.75)';
function eRows(ax, xEnd) {
  const rowColors = ['#666', '#666', '#6a6aff', '#6a6aff', '#ff6a6a', '#666', '#ff6a6a', '#ff6a6a'];
  rowColors.forEach((c, k) => layout.shapes.push({type:'line', xref:ax.x, yref:ax.y, x0:0, x1:xEnd, y0:k, y1:k, line:{color:c, width:1.3}}));
}
const ei = axes([39, 290], eY, hidden([0, 2.368]), hidden([0, 8]));
layout.shapes.push({type:'rect', xref:ei.x, yref:ei.y, x0:eiGateWindow[0], x1:eiGateWindow[1], y0:1, y1:7.93, layer:'below',
  fillcolor:'#c8c8c8', line:{color:'#444', width:1.2}});
eRows(ei, 2.368);
data.push(onOffBars(eiOdour1On, eiOdour1Off, RED, ei, 7, rowH), onOffBars(eiOdour1On, eiOdour1Off, RED, ei, 6, rowH),
  onOffBars(eiBlankOn, eiBlankOff, '#000', ei, 5, rowH), onOffBars(eiOdour1On, eiOdour1Off, RED, ei, 4, rowH),
  onOffBars(eiOdour2On, eiOdour2Off, BLUE, ei, 3, rowH), onOffBars(eiOdour2On, eiOdour2Off, BLUE, ei, 2, rowH),
  onOffBars(eiPulseOn, eiPulseOff, '#000', ei, 0, rowH));
data.push(vLines(eiRow2Gaps, WHITE, ei, 6, 6 + rowH, 1), vLines(eiRow4Gaps, WHITE, ei, 4, 4 + rowH, 1),
  vLines(eiRow5Gaps, WHITE, ei, 3, 3 + rowH, 1), vLines(eiRow6Gaps, WHITE, ei, 2, 2 + rowH, 1));
const eii = axes([312, 437], eY, hidden([0, 0.305]), hidden([0, 8]));
eRows(eii, 0.305);
data.push(onOffBars(eiiOdour1On, eiiOdour1Off, RED, eii, 7, rowH), onOffBars(eiiOdour1On, eiiOdour1Off, RED, eii, 6, rowH),
  onOffBars(eiiBlankOn, eiiBlankOff, '#0a0a0a', eii, 5, rowH), onOffBars(eiiOdour1On, eiiOdour1Off, RED, eii, 4, rowH),
  onOffBars(eiiOdour2On, eiiOdour2Off, BLUE, eii, 3, rowH), onOffBars(eiiOdour2On, eiiOdour2Off, BLUE, eii, 2, rowH),
  onOffBars(eiiPulseOn, eiiPulseOff, '#0a0a0a', eii, 0, rowH));
data.push(vLines(eiiRow1Gaps, WHITE, eii, 7, 7 + rowH, 0.8), vLines(eiiRow2Gaps, WHITE, eii, 6, 6 + rowH, 0.8),
  vLines(eiiRow4Gaps, WHITE, eii, 4, 4 + rowH, 0.8), vLines(eiiRow5Gaps, WHITE, eii, 3, 3 + rowH, 0.8),
  vLines(eiiRow6Gaps, WHITE, eii, 2, 2 + rowH, 0.8), vLines(eiiRow3Texture, '#444', eii, 5, 5 + rowH, 0.8),
  vLines(eiiRow8Texture, '#444', eii, 0, rowH, 0.8));
lineShape(273, 1210, 284, 1210, '#000', 1.3);
ann('0.1 s', 278, 1223, {font:{family:FONT, size:14}});
lineShape(396, 1210, 437, 1210, '#000', 1.3);
ann('0.1 s', 416, 1223, {font:{family:FONT, size:14}});
ann(bold('e'), 18, 994, {font:{family:FONT, size:17}});
ann(bold('i'), 27, 1003, {font:{family:FONT, size:15}});
ann(bold('ii'), 301, 1002, {font:{family:FONT, size:15}});
ann(bold('Odour 1'), 43, 1015, {xanchor:'left', font:{family:FONT, size:13.5, color:RED}});
ann(bold('Odour 2'), 104, 1015, {xanchor:'left', font:{family:FONT, size:13.5, color:BLUE}});
ann(bold('Blank'), 170, 1015, {xanchor:'left', font:{family:FONT, size:13.5, color:'#000'}});

// ================= PANELS f, g =================
const pctY = [1049, 1195];
const pctAxis = {range:[40, 90], tickvals:pctTicks, ticktext:pctTickText, showline:true, linecolor:'#000', linewidth:2,
  ticks:'outside', ticklen:5, tickcolor:'#000', tickfont:{family:FONT, size:14}};
function boxTrace(ax, pos, st, fill, w) {
  data.push({type:'box', x:[pos], lowerfence:[st[0]], q1:[st[1]], median:[st[2]], q3:[st[3]], upperfence:[st[4]], width:w,
    fillcolor:fill, line:{color:'#555', width:1.1}, whiskerwidth:0.5, boxpoints:false, xaxis:ax.x, yaxis:ax.y, hoverinfo:'skip'});
  data.push({type:'scatter', mode:'lines', x:[pos - w / 2, pos + w / 2], y:[st[2], st[2]], line:{color:'#000', width:3},
    xaxis:ax.x, yaxis:ax.y, hoverinfo:'skip'});
}
function dots(ax, pos, vals) {
  data.push({type:'scatter', mode:'markers', x:vals.map(() => pos), y:vals, marker:{color:'#d8d8d8', size:7},
    xaxis:ax.x, yaxis:ax.y, hoverinfo:'skip'});
}
const fAx = axes([513, 600], pctY, hidden([0, 4.35]), pctAxis);
boxTrace(fAx, 1.52, fCorrStats, '#8a8a8a', 0.93);
dots(fAx, 2.3, fCorrPoints);
boxTrace(fAx, 3.03, fScrambleStats, '#8a8a8a', 0.85);
dots(fAx, 3.77, fScramblePoints);
layout.shapes.push({type:'line', xref:fAx.x, yref:fAx.y, x0:1.44, x1:3.1, y0:78.8, y1:78.8, line:{color:'#000', width:1.3}});
ann(sigLabel, 558, 1072, {font:{family:FONT, size:15}});
ann(fCategories[0], 542, 1190, {textangle:-90, yanchor:'top', align:'right', font:{family:FONT, size:14.5}});
ann(fCategories[1], 574, 1192, {textangle:-90, yanchor:'top', font:{family:FONT, size:14.5}});
ann(bold('% correct'), 479, 1122, {textangle:-90, font:{family:FONT, size:15.5}});
ann(bold('f'), 463, 1006, {font:{family:FONT, size:17}});

const gAx = axes([667, 760], pctY, hidden([0, 4.65]), pctAxis);
boxTrace(gAx, 1.05, gAcpStats, '#8a8a8a', 0.9);
dots(gAx, 1.85, gAcpPoints);
boxTrace(gAx, 2.6, gScrambleStats, '#e0e0e0', 0.9);
dots(gAx, 3.35, gScramblePoints);
layout.shapes.push({type:'line', xref:gAx.x, yref:gAx.y, x0:1.03, x1:2.65, y0:88, y1:88, line:{color:'#000', width:1.3}});
ann(sigLabel, 703, 1046, {font:{family:FONT, size:15}});
ann(gCategories[0], 688, 1192, {textangle:-90, yanchor:'top', align:'right', font:{family:FONT, size:14.5}});
ann(gCategories[1], 722, 1192, {textangle:-90, yanchor:'top', font:{family:FONT, size:14.5}});
ann(bold('% correct'), 633, 1122, {textangle:-90, font:{family:FONT, size:15.5}});
ann(bold('g'), 612, 1006, {font:{family:FONT, size:17}});

Plotly.newPlot('chart', data, layout, {displayModeBar:false, staticPlot:true});
</script>
</body></html>
